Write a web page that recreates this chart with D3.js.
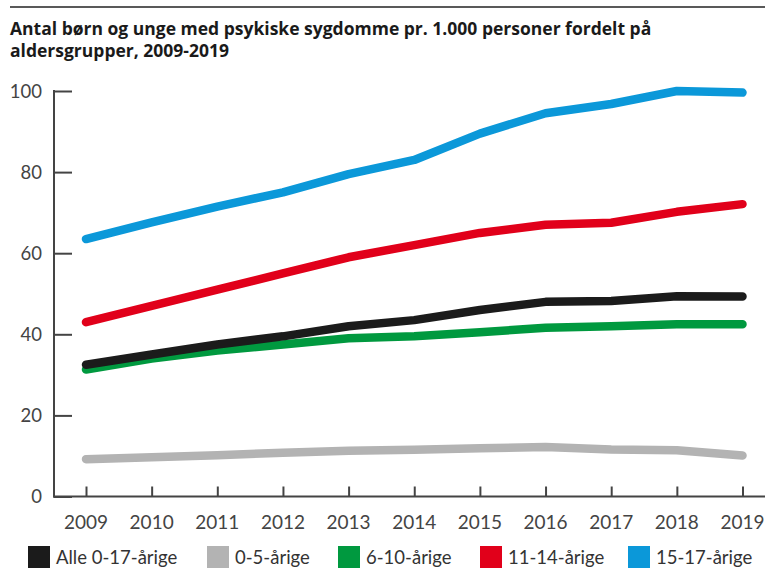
<!DOCTYPE html>
<html>
<head>
<meta charset="utf-8">
<script src="https://cdn.jsdelivr.net/npm/d3@7"></script>
<style>
  body { margin: 0; background: #fff; }
  text { font-family: "Lato", "Open Sans", sans-serif; }
</style>
</head>
<body>
<script>
var WIDTH = 765;
var HEIGHT = 575;

var years = [2009, 2010, 2011, 2012, 2013, 2014, 2015, 2016, 2017, 2018, 2019];
var yTicks = [0, 20, 40, 60, 80, 100];

var seriesNames = ["Alle 0-17-årige", "0-5-årige", "6-10-årige", "11-14-årige", "15-17-årige"];
var seriesColors = ["#1b1b1b", "#b3b3b3", "#00993f", "#e1001a", "#0b98d9"];

var alle = [32.5, 35, 37.5, 39.5, 42, 43.5, 46, 48, 48.2, 49.4, 49.3];
var aar0_5 = [9.2, 9.7, 10.2, 10.8, 11.3, 11.5, 11.9, 12.2, 11.6, 11.4, 10.1];
var aar6_10 = [31.3, 34, 36, 37.5, 39, 39.5, 40.5, 41.6, 42, 42.5, 42.5];
var aar11_14 = [43, 47, 51, 55, 59, 62, 65, 67, 67.5, 70.2, 72.1];
var aar15_17 = [63.5, 67.6, 71.5, 75, 79.5, 83, 89.5, 94.5, 96.8, 100, 99.6];

// draw order: grey at back, blue on top
var drawOrder = [1, 2, 0, 3, 4];
var allSeries = [alle, aar0_5, aar6_10, aar11_14, aar15_17];

var svg = d3.select("body")
  .append("svg")
  .attr("width", WIDTH)
  .attr("height", HEIGHT);

// top rule
svg.append("line")
  .attr("x1", 10).attr("x2", WIDTH)
  .attr("y1", 7).attr("y2", 7)
  .attr("stroke", "#222")
  .attr("stroke-width", 1.5);

var title = svg.append("text")
  .style("font-family", "'Open Sans', sans-serif")
  .attr("font-size", 17.5)
  .attr("font-weight", "bold")
  .attr("fill", "#1a1a1a");
title.append("tspan").attr("x", 10).attr("y", 35)
  .text("Antal børn og unge med psykiske sygdomme pr. 1.000 personer fordelt på");
title.append("tspan").attr("x", 10).attr("y", 57)
  .text("aldersgrupper, 2009-2019");

var x = d3.scaleLinear()
  .domain([2009, 2019])
  .range([86, 742.5]);

var y = d3.scaleLinear()
  .domain([0, 100])
  .range([496.5, 91]);

var axisColor = "#444";

// y axis: line on the left, ticks pointing inward
var yAxis = svg.append("g")
  .attr("transform", "translate(54,0)")
  .call(d3.axisRight(y).tickValues(yTicks).tickSize(18).tickFormat(""));
yAxis.select(".domain").remove();
yAxis.selectAll("line").attr("stroke", axisColor).attr("stroke-width", 2);

svg.append("line")
  .attr("x1", 54).attr("x2", 54)
  .attr("y1", y(100) - 1).attr("y2", y(0) + 1)
  .attr("stroke", axisColor).attr("stroke-width", 2);

svg.selectAll(".ylab")
  .data(yTicks)
  .enter()
  .append("text")
  .attr("class", "ylab")
  .attr("x", 42)
  .attr("y", function (d) { return y(d); })
  .attr("dy", "0.36em")
  .attr("text-anchor", "end")
  .attr("font-size", 18.5)
  .attr("fill", "#444")
  .text(function (d) { return d; });

// x axis
var xAxis = svg.append("g")
  .attr("transform", "translate(0," + y(0) + ")")
  .call(d3.axisTop(x).tickValues(years).tickSize(10).tickFormat(""));
xAxis.select(".domain").remove();
xAxis.selectAll("line").attr("stroke", axisColor).attr("stroke-width", 2);

svg.append("line")
  .attr("x1", 53).attr("x2", WIDTH)
  .attr("y1", y(0)).attr("y2", y(0))
  .attr("stroke", axisColor).attr("stroke-width", 2);

svg.selectAll(".xlab")
  .data(years)
  .enter()
  .append("text")
  .attr("class", "xlab")
  .attr("x", function (d) { return x(d); })
  .attr("y", 529)
  .attr("text-anchor", "middle")
  .attr("font-size", 19)
  .attr("fill", "#444")
  .text(function (d) { return d; });

// lines
var line = d3.line()
  .x(function (d, i) { return x(years[i]); })
  .y(function (d) { return y(d); });

svg.selectAll(".series")
  .data(drawOrder)
  .enter()
  .append("path")
  .attr("class", "series")
  .attr("d", function (k) { return line(allSeries[k]); })
  .attr("fill", "none")
  .attr("stroke", function (k) { return seriesColors[k]; })
  .attr("stroke-width", 8.5)
  .attr("stroke-linecap", "round")
  .attr("stroke-linejoin", "round");

// legend
var legendX = [28, 207, 338, 480, 628];
var legend = svg.selectAll(".leg")
  .data(seriesNames)
  .enter()
  .append("g")
  .attr("class", "leg")
  .attr("transform", function (d, i) { return "translate(" + legendX[i] + ",546)"; });

legend.append("rect")
  .attr("width", 22)
  .attr("height", 22)
  .attr("fill", function (d, i) { return seriesColors[i]; });

legend.append("text")
  .attr("x", 28)
  .attr("y", 11)
  .attr("dy", "0.36em")
  .attr("font-size", 18.5)
  .attr("fill", "#333")
  .text(function (d) { return d; });
</script>
</body>
</html>
